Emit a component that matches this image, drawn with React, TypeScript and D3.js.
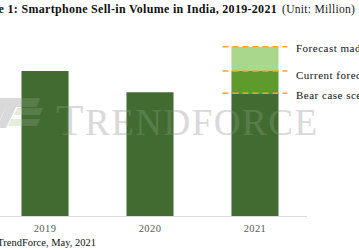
import { useEffect, useRef } from 'react';
import * as d3 from 'd3';

const years = ['2019', '2020', '2021'];
// base sell-in volume (million); 2021 base = bear case
const sellIn = [150, 128, 127];
// 2021 scenario levels (million)
const scenarioNames = ['Bear case scenario', 'Current forecast', 'Forecast made in early 2021'];
const scenarioValues = [127, 150, 175];
const scenarioColors = ['#426b31', '#5f9a2c', '#a9d88c'];

const serif = 'Liberation Serif, serif';

export default function App() {
  const svgRef = useRef<SVGSVGElement>(null);

  useEffect(() => {
    if (!svgRef.current) return;
    const svg = d3.select(svgRef.current);
    svg.selectAll('*').remove();

    const W = 359, H = 250;
    const baseY = 216;
    const x = d3.scaleBand().domain(years).range([0, 300]).paddingInner(0.552).paddingOuter(0.205);
    const y = d3.scaleLinear().domain([0, 200]).range([baseY, baseY - 200 * 0.9667]);

    svg.attr('width', W).attr('height', H);

    // Title
    svg.append('text')
      .attr('x', 277).attr('y', 13)
      .attr('text-anchor', 'end')
      .attr('font-family', serif)
      .attr('font-size', '12px')
      .attr('font-weight', 'bold')
      .attr('letter-spacing', '0.3px')
      .attr('fill', '#111')
      .text('Figure 1: Smartphone Sell-in Volume in India, 2019-2021');
    svg.append('text')
      .attr('x', 282).attr('y', 13)
      .attr('font-family', serif)
      .attr('font-size', '11.5px')
      .attr('letter-spacing', '0.3px')
      .attr('fill', '#222')
      .text('(Unit: Million)');

    // Watermark
    const drawWatermark = (g: d3.Selection<SVGGElement, unknown, null, undefined>, c1: string, c2: string) => {
      g.append('polygon').attr('points', '0,98 40,98 37,107 6,107 0,120').attr('fill', c1);
      g.append('polygon').attr('points', '0,121 6,107 16,107 6,128 0,128').attr('fill', c1);
      g.append('polygon').attr('points', '17,108 43,108 40,115 14,115').attr('fill', c2);
      g.append('polygon').attr('points', '11,119 40,119 37,126 8,126').attr('fill', c2);
      const t = g.append('text')
        .attr('x', 56).attr('y', 135)
        .attr('font-family', serif)
        .attr('fill', c1)
        .attr('textLength', 261)
        .attr('lengthAdjust', 'spacing');
      t.append('tspan').attr('font-size', '45px').text('T');
      t.append('tspan').attr('font-size', '37px').text('RENDFORCE');
    };
    drawWatermark(svg.append('g'), '#d4d4d4', '#e3ebd8');

    // Axis line
    svg.append('line')
      .attr('x1', 0).attr('x2', 307)
      .attr('y1', baseY + 0.5).attr('y2', baseY + 0.5)
      .attr('stroke', '#d9d9d9').attr('stroke-width', 1);

    // Base bars
    svg.selectAll('.bar')
      .data(years)
      .enter()
      .append('rect')
      .attr('class', 'bar')
      .attr('x', d => x(d)!)
      .attr('width', x.bandwidth())
      .attr('y', (_, i) => y(sellIn[i]))
      .attr('height', (_, i) => y(0) - y(sellIn[i]))
      .attr('fill', scenarioColors[0]);

    // 2021 scenario segments
    const x21 = x('2021')!;
    for (let i = 1; i < scenarioValues.length; i++) {
      svg.append('rect')
        .attr('x', x21)
        .attr('width', x.bandwidth())
        .attr('y', y(scenarioValues[i]))
        .attr('height', y(scenarioValues[i - 1]) - y(scenarioValues[i]))
        .attr('fill', scenarioColors[i]);
    }

    // faint watermark over the bars
    drawWatermark(svg.append('g').attr('opacity', 0.12), '#ffffff', '#ffffff');

    // Dashed scenario lines + labels
    scenarioValues.forEach((v, i) => {
      const yy = y(v);
      svg.append('line')
        .attr('x1', x21 - 9).attr('x2', x21 + x.bandwidth() + 9)
        .attr('y1', yy).attr('y2', yy)
        .attr('stroke', '#f4a82a')
        .attr('stroke-width', 1.5)
        .attr('stroke-dasharray', '6,4');
      svg.append('text')
        .attr('x', 296).attr('y', yy + 2 + (i === 1 ? 2 : 0))
        .attr('dy', '0.32em')
        .attr('font-family', serif)
        .attr('font-size', '11px')
        .attr('letter-spacing', '0.5px')
        .attr('fill', '#111')
        .text(scenarioNames[i]);
    });

    // Year labels
    svg.selectAll('.yl')
      .data(years)
      .enter()
      .append('text')
      .attr('x', d => x(d)! + x.bandwidth() / 2)
      .attr('y', 232)
      .attr('text-anchor', 'middle')
      .attr('font-family', serif)
      .attr('font-size', '10.5px')
      .attr('letter-spacing', '0.4px')
      .attr('fill', '#595959')
      .text(d => d);

    // Source
    svg.append('text')
      .attr('x', 96).attr('y', 246)
      .attr('text-anchor', 'end')
      .attr('font-family', serif)
      .attr('font-size', '10.5px')
      .attr('fill', '#111')
      .text('Source: TrendForce, May, 2021');
  }, []);

  return (
    <svg ref={svgRef} style={{ position: 'absolute', left: 0, top: 0, background: '#fff' }} />
  );
}
